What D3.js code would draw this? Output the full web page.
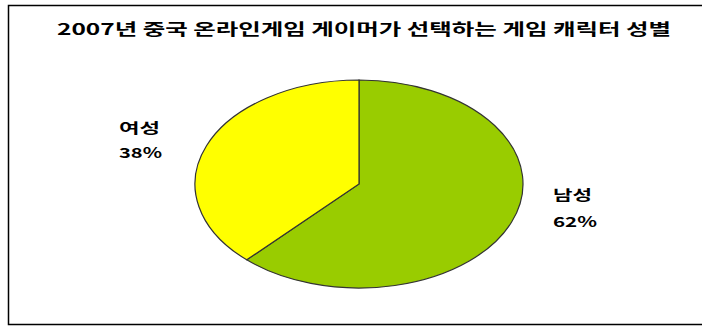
<!DOCTYPE html>
<html><head><meta charset="utf-8">
<script src="https://cdn.jsdelivr.net/npm/d3@7"></script>
<style>
html,body{margin:0;padding:0;background:#fff;}
svg{display:block;}
text{font-family:"Noto Sans CJK KR","Noto Sans",sans-serif;font-weight:bold;fill:#000;}
</style></head>
<body>
<script>
const title = "2007년 중국 온라인게임 게이머가 선택하는 게임 캐릭터 성별";
const categories = ["남성", "여성"];
const values = [62, 38];
const colors = ["#99cc00", "#ffff00"];

const W = 702, H = 327;
const svg = d3.select("body").append("svg").attr("width", W).attr("height", H);

// frame (right side open, off the picture)
svg.append("path")
  .attr("d", "M712,5.5 H8.5 V324.5 H712")
  .attr("fill", "none").attr("stroke", "#000").attr("stroke-width", 1.5);

svg.append("text").attr("x", 57).attr("y", 35)
  .attr("font-size", 15.5)
  .attr("textLength", 614).attr("lengthAdjust", "spacingAndGlyphs")
  .text(title);

const cx = 359, cy = 184, rx = 164, ry = 104, r = 100;
const pie = d3.pie().sort(null).value(d => d)(values);
const arc = d3.arc().innerRadius(0).outerRadius(r);

const g = svg.append("g").attr("transform", `translate(${cx},${cy}) scale(${rx / r},${ry / r})`);
g.selectAll("path").data(pie).join("path")
  .attr("d", arc)
  .attr("fill", (d, i) => colors[i])
  .attr("stroke", "#333")
  .attr("stroke-width", 1.2)
  .attr("vector-effect", "non-scaling-stroke");

// labels
const labelPos = [[553, 200, 227, 39, 44], [119, 133, 158, 41, 43]];
categories.forEach((c, i) => {
  const [x, y1, y2, w1, w2] = labelPos[i];
  svg.append("text").attr("x", x).attr("y", y1).attr("font-size", 14)
    .attr("textLength", w1).attr("lengthAdjust", "spacingAndGlyphs").text(c);
  svg.append("text").attr("x", x).attr("y", y2).attr("font-size", 14)
    .attr("textLength", w2).attr("lengthAdjust", "spacingAndGlyphs").text(values[i] + "%");
});
</script>
</body></html>
